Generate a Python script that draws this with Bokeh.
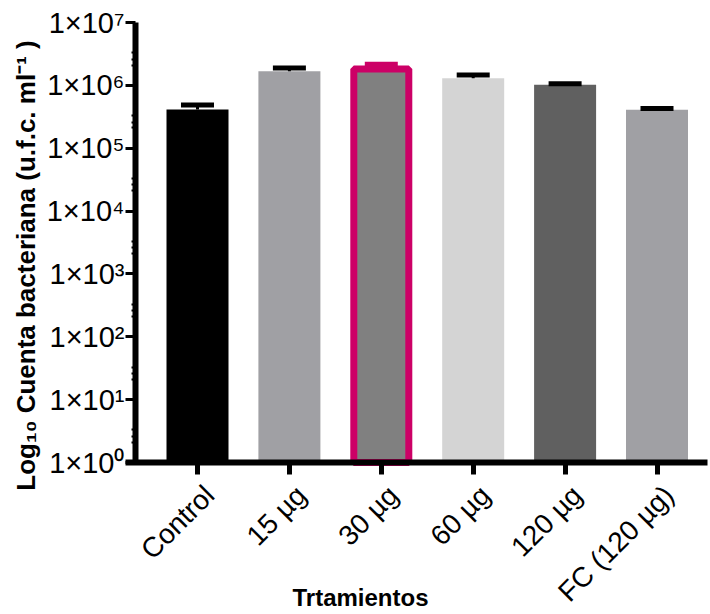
import math
from bokeh.plotting import figure
from bokeh.models import ColumnDataSource, FixedTicker, LabelSet, Label, Range1d
from bokeh.core.properties import value
from bokeh.embed import file_html
from bokeh.resources import INLINE

# ---------------- data ----------------
categories = ["Control", "15 µg", "30 µg", "60 µg", "120 µg", "FC (120 µg)"]
counts = [4.13e5, 1.68e6, 1.82e6, 1.30e6, 1.02e6, 4.08e5]      # bar heights (u.f.c./ml)
upper_err = [4.87e5, 1.89e6, 2.16e6, 1.46e6, 1.06e6, 4.30e5]   # top of error bar
bar_colors = ["#000000", "#a0a0a4", "#808080", "#d4d4d4", "#606060", "#a0a0a4"]
highlight = [False, False, True, False, False, False]
y_ticks = [1, 10, 100, 1000, 10000, 100000, 1000000, 10000000]
y_tick_labels = ["1×10⁰", "1×10¹", "1×10²", "1×10³", "1×10⁴", "1×10⁵", "1×10⁶", "1×10⁷"]
minor_factors = [2.1, 2.6, 3.3]
y_title = "Log₁₀ Cuenta bacteriana (u.f.c. ml⁻¹ )"
x_title = "Trtamientos"

# ---------------- layout (pixels) ----------------
W, H = 710, 614
AXIS_X, AXIS_Y = 135, 462          # where the y axis / x axis lines sit
TOP_Y = 22                         # pixel of 1e7
X_AXIS_LEFT, X_AXIS_RIGHT = 125, 707
PX_PER_CAT = 91.9
FIRST_CENTER = 197
HIGHLIGHT_COLOR = "#cc0066"
EDGE_PX = 7
FONT = "Liberation Sans"

decade_px = (AXIS_Y - TOP_Y) / 7.0


def px_x(px):
    return (px - FIRST_CENTER) / PX_PER_CAT


def px_y(py):
    return 10 ** ((AXIS_Y - py) / decade_px)


bar_w = 62 / PX_PER_CAT
cap_half = 16.5 / PX_PER_CAT

xs = list(range(len(categories)))
widths = [bar_w - (EDGE_PX / PX_PER_CAT if h else 0) for h in highlight]
line_alpha = [1.0 if h else 0.0 for h in highlight]
err_colors = [HIGHLIGHT_COLOR if h else "#000000" for h in highlight]

src = ColumnDataSource(dict(
    x=xs, cat=categories, top=counts, up=upper_err, color=bar_colors,
    w=widths, la=line_alpha, ec=err_colors,
    cx0=[x - cap_half for x in xs], cx1=[x + cap_half for x in xs],
    base=[1] * len(xs),
))

# frame covers the whole canvas; axes are pinned with fixed_location
p = figure(width=W, height=H, output_backend="svg", toolbar_location=None,
           y_axis_type="log",
           x_range=Range1d(px_x(0), px_x(W)), y_range=Range1d(px_y(H), px_y(0)),
           min_border=0)
p.outline_line_color = None
p.xgrid.visible = False
p.ygrid.visible = False
p.background_fill_color = "white"
p.border_fill_color = "white"

# bars
p.vbar(x="x", width="w", bottom=1, top="top", source=src,
       fill_color="color", line_color=HIGHLIGHT_COLOR, line_alpha="la",
       line_width=EDGE_PX)

# error bars (upper only)
p.segment(x0="x", y0="top", x1="x", y1="up", source=src,
          line_color="ec", line_width=3)
p.segment(x0="cx0", y0="up", x1="cx1", y1="up", source=src,
          line_color="ec", line_width=5)

# y axis
yaxis = p.yaxis[0]
yaxis.fixed_location = px_x(AXIS_X)
yaxis.bounds = (y_ticks[0], y_ticks[-1])
yaxis.ticker = FixedTicker(ticks=y_ticks,
                           minor_ticks=[f * t for t in y_ticks[:-1] for f in minor_factors])
yaxis.major_label_overrides = dict(zip(y_ticks, y_tick_labels))
yaxis.axis_line_width = 6
yaxis.major_tick_line_width = 3
yaxis.major_tick_out = 10
yaxis.major_tick_in = 0
yaxis.minor_tick_line_width = 2
yaxis.minor_tick_out = 4
yaxis.minor_tick_in = 0
yaxis.major_label_text_font = FONT
yaxis.major_label_text_font_size = "29px"
yaxis.major_label_text_color = "black"
yaxis.major_label_standoff = 1
yaxis.axis_label = None

# x axis
xaxis = p.xaxis[0]
xaxis.fixed_location = 1
xaxis.bounds = (px_x(X_AXIS_LEFT), px_x(X_AXIS_RIGHT))
xaxis.ticker = FixedTicker(ticks=xs, minor_ticks=[])
xaxis.axis_line_width = 6
xaxis.major_tick_line_width = 5
xaxis.major_tick_out = 12
xaxis.major_tick_in = 0
xaxis.minor_tick_out = 0
xaxis.major_label_text_font_size = "0px"
xaxis.major_label_text_color = None
xaxis.axis_label = None

# category labels (rotated)
labels = LabelSet(x="x", y="base", text="cat", source=src,
                  angle=math.pi / 4, text_align="right", text_baseline="middle",
                  x_offset=12, y_offset=-28,
                  text_font=value(FONT), text_font_size=value("28px"),
                  text_color="black")
p.add_layout(labels)

# axis titles
p.add_layout(Label(x=px_x(25), y=px_y(265), text=y_title, angle=math.pi / 2,
                   text_align="center", text_baseline="middle",
                   text_font=FONT, text_font_size="26px", text_font_style="bold",
                   text_color="black"))
p.add_layout(Label(x=px_x(360), y=px_y(597), text=x_title,
                   text_align="center", text_baseline="middle",
                   text_font=FONT, text_font_size="24px", text_font_style="bold",
                   text_color="black"))

open("out.html", "w").write(file_html(p, INLINE))
